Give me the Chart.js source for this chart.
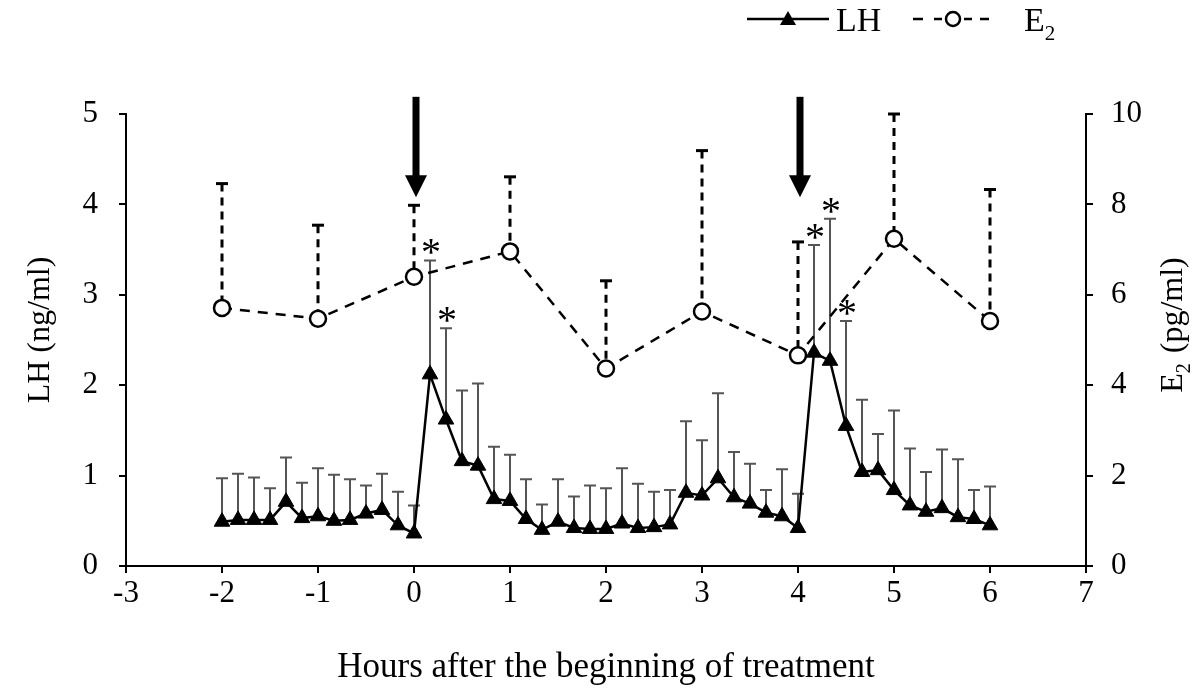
<!DOCTYPE html>
<html>
<head>
<meta charset="utf-8">
<script src="https://cdn.jsdelivr.net/npm/chart.js@4/dist/chart.umd.min.js"></script>
<style>
  html, body { margin: 0; padding: 0; background: #fff; }
  canvas { display: block; }
</style>
</head>
<body>
<canvas id="chart" width="1200" height="692"></canvas>
<script>
// LH sampled every 10 min (minutes after start of treatment)
const lhMinutes = [-120, -110, -100, -90, -80, -70, -60, -50, -40, -30, -20, -10,
  0, 10, 20, 30, 40, 50, 60, 70, 80, 90, 100, 110, 120, 130, 140, 150, 160, 170,
  180, 190, 200, 210, 220, 230, 240, 250, 260, 270, 280, 290, 300, 310, 320, 330,
  340, 350, 360];
const lhMean = [0.49, 0.51, 0.51, 0.51, 0.71, 0.53, 0.55, 0.50, 0.51, 0.58, 0.62, 0.45,
  0.36, 2.12, 1.62, 1.16, 1.11, 0.74, 0.72, 0.52, 0.40, 0.49, 0.42, 0.41, 0.41, 0.47,
  0.42, 0.43, 0.46, 0.81, 0.78, 0.97, 0.76, 0.69, 0.59, 0.55, 0.42, 2.36, 2.27, 1.55,
  1.04, 1.06, 0.84, 0.67, 0.60, 0.64, 0.54, 0.52, 0.45];
const lhSem = [0.48, 0.51, 0.47, 0.35, 0.49, 0.39, 0.53, 0.51, 0.45, 0.31, 0.40, 0.37,
  0.31, 1.26, 1.01, 0.78, 0.91, 0.58, 0.51, 0.44, 0.28, 0.47, 0.35, 0.48, 0.45, 0.61,
  0.49, 0.39, 0.38, 0.79, 0.61, 0.94, 0.50, 0.44, 0.25, 0.52, 0.38, 1.19, 1.57, 1.16,
  0.80, 0.40, 0.88, 0.63, 0.44, 0.65, 0.64, 0.32, 0.43];
const lhSignificant = [10, 20, 250, 260, 270];

// E2 sampled hourly
const e2Hours = [-2, -1, 0, 1, 2, 3, 4, 5, 6];
const e2Mean = [5.71, 5.47, 6.40, 6.96, 4.37, 5.63, 4.66, 7.24, 5.42];
const e2Sem = [2.75, 2.07, 1.58, 1.65, 1.94, 3.56, 2.51, 2.76, 2.91];

const treatmentHours = [0, 4];

const SERIF = "'Liberation Serif', 'Times New Roman', serif";

const extras = {
  id: 'extras',
  beforeDatasetsDraw(chart) {
    const { ctx, scales: { x, y, y2 } } = chart;
    ctx.save();
    // LH error bars (upper only, grey)
    ctx.strokeStyle = '#555';
    ctx.lineWidth = 2;
    lhMinutes.forEach((m, i) => {
      const px = x.getPixelForValue(m / 60);
      const y0 = y.getPixelForValue(lhMean[i]);
      const y1 = y.getPixelForValue(lhMean[i] + lhSem[i]);
      ctx.beginPath();
      ctx.moveTo(px, y0);
      ctx.lineTo(px, y1);
      ctx.moveTo(px - 6, y1);
      ctx.lineTo(px + 6, y1);
      ctx.stroke();
    });
    // E2 error bars (upper only, dashed)
    ctx.strokeStyle = '#000';
    ctx.lineWidth = 3;
    e2Hours.forEach((h, i) => {
      const px = x.getPixelForValue(h);
      const y0 = y2.getPixelForValue(e2Mean[i]) - 8;
      const y1 = y2.getPixelForValue(e2Mean[i] + e2Sem[i]);
      ctx.setLineDash([8, 6]);
      ctx.beginPath();
      ctx.moveTo(px, y1);
      ctx.lineTo(px, y0);
      ctx.stroke();
      ctx.setLineDash([]);
      ctx.beginPath();
      ctx.moveTo(px - 6, y1);
      ctx.lineTo(px + 6, y1);
      ctx.stroke();
    });
    ctx.restore();
  },
  afterDatasetsDraw(chart) {
    const { ctx, scales: { x, y } } = chart;
    ctx.save();
    ctx.fillStyle = '#000';
    // asterisks
    ctx.font = '40px ' + SERIF;
    ctx.textAlign = 'center';
    ctx.textBaseline = 'alphabetic';
    lhSignificant.forEach(m => {
      const i = lhMinutes.indexOf(m);
      const px = x.getPixelForValue(m / 60);
      const py = y.getPixelForValue(lhMean[i] + lhSem[i]);
      ctx.fillText('*', px + 1, py + 5);
    });
    // treatment arrows
    treatmentHours.forEach(h => {
      const px = x.getPixelForValue(h) + 2;
      const top = y.getPixelForValue(5.19);
      const tip = y.getPixelForValue(4.08);
      ctx.fillRect(px - 3.5, top, 7, tip - top - 20);
      ctx.beginPath();
      ctx.moveTo(px - 11, tip - 22);
      ctx.lineTo(px + 11, tip - 22);
      ctx.lineTo(px, tip);
      ctx.closePath();
      ctx.fill();
    });
    ctx.restore();
  },
  afterDraw(chart) {
    const { ctx, chartArea } = chart;
    ctx.save();
    ctx.fillStyle = '#000';
    ctx.strokeStyle = '#000';

    // x title
    ctx.font = '35px ' + SERIF;
    ctx.textAlign = 'center';
    ctx.textBaseline = 'alphabetic';
    ctx.fillText('Hours after the beginning of treatment', (chartArea.left + chartArea.right) / 2, 677);

    // left title
    ctx.font = '32px ' + SERIF;
    ctx.save();
    ctx.translate(49, 330);
    ctx.rotate(-Math.PI / 2);
    ctx.fillText('LH (ng/ml)', 0, 0);
    ctx.restore();

    // right title with subscript
    ctx.save();
    ctx.translate(1182, 325);
    ctx.rotate(-Math.PI / 2);
    ctx.textAlign = 'left';
    const full = ctx.measureText('E').width + 12 + ctx.measureText(' (pg/ml)').width;
    let cx = -full / 2;
    ctx.fillText('E', cx, 0);
    cx += ctx.measureText('E').width;
    ctx.font = '20px ' + SERIF;
    ctx.fillText('2', cx, 8);
    cx += 12;
    ctx.font = '32px ' + SERIF;
    ctx.fillText(' (pg/ml)', cx, 0);
    ctx.restore();

    // legend
    ctx.lineWidth = 2.5;
    ctx.beginPath();
    ctx.moveTo(747, 19);
    ctx.lineTo(829, 19);
    ctx.stroke();
    ctx.beginPath();
    ctx.moveTo(788, 11);
    ctx.lineTo(796, 25);
    ctx.lineTo(780, 25);
    ctx.closePath();
    ctx.fill();
    ctx.textAlign = 'left';
    ctx.font = '34px ' + SERIF;
    ctx.fillText('LH', 836, 31);

    ctx.beginPath();
    [[913, 923], [934, 942], [964, 972], [980, 989]].forEach(([a, b]) => {
      ctx.moveTo(a, 19);
      ctx.lineTo(b, 19);
    });
    ctx.stroke();
    ctx.beginPath();
    ctx.arc(953, 19, 7, 0, Math.PI * 2);
    ctx.fillStyle = '#fff';
    ctx.fill();
    ctx.stroke();
    ctx.fillStyle = '#000';
    ctx.fillText('E', 1024, 31);
    const eW = ctx.measureText('E').width;
    ctx.font = '21px ' + SERIF;
    ctx.fillText('2', 1024 + eW, 40);
    ctx.restore();
  }
};

const axisGrid = { drawOnChartArea: false, color: '#000', lineWidth: 2, tickLength: 7 };
const axisBorder = { color: '#000', width: 2 };
const tickFont = { family: SERIF, size: 31 };

new Chart(document.getElementById('chart'), {
  type: 'line',
  data: {
    datasets: [
      {
        label: 'LH',
        yAxisID: 'y',
        data: lhMinutes.map((m, i) => ({ x: m / 60, y: lhMean[i] })),
        borderColor: '#000',
        backgroundColor: '#000',
        borderWidth: 2.5,
        pointStyle: 'triangle',
        pointRadius: 9,
        pointBorderWidth: 1,
        tension: 0
      },
      {
        label: 'E2',
        yAxisID: 'y2',
        data: e2Hours.map((h, i) => ({ x: h, y: e2Mean[i] })),
        borderColor: '#000',
        backgroundColor: '#fff',
        borderWidth: 2.5,
        borderDash: [10, 8],
        pointStyle: 'circle',
        pointRadius: 8,
        pointBorderWidth: 2.5,
        tension: 0
      }
    ]
  },
  options: {
    responsive: false,
    animation: false,
    devicePixelRatio: 1,
    layout: { padding: { top: 114, left: 0, right: 0, bottom: 0 } },
    plugins: {
      legend: { display: false },
      tooltip: { enabled: false }
    },
    scales: {
      x: {
        type: 'linear',
        min: -3,
        max: 7,
        ticks: { stepSize: 1, color: '#000', font: tickFont, padding: 2 },
        grid: axisGrid,
        border: axisBorder,
        afterFit(s) { s.height = 126; }
      },
      y: {
        position: 'left',
        min: 0,
        max: 5,
        ticks: { stepSize: 1, color: '#000', font: tickFont, padding: 21 },
        grid: axisGrid,
        border: axisBorder,
        afterFit(s) { s.width = 126; }
      },
      y2: {
        position: 'right',
        min: 0,
        max: 10,
        ticks: { stepSize: 2, color: '#000', font: tickFont, padding: 18 },
        grid: axisGrid,
        border: axisBorder,
        afterFit(s) { s.width = 114; }
      }
    }
  },
  plugins: [extras]
});
</script>
</body>
</html>
